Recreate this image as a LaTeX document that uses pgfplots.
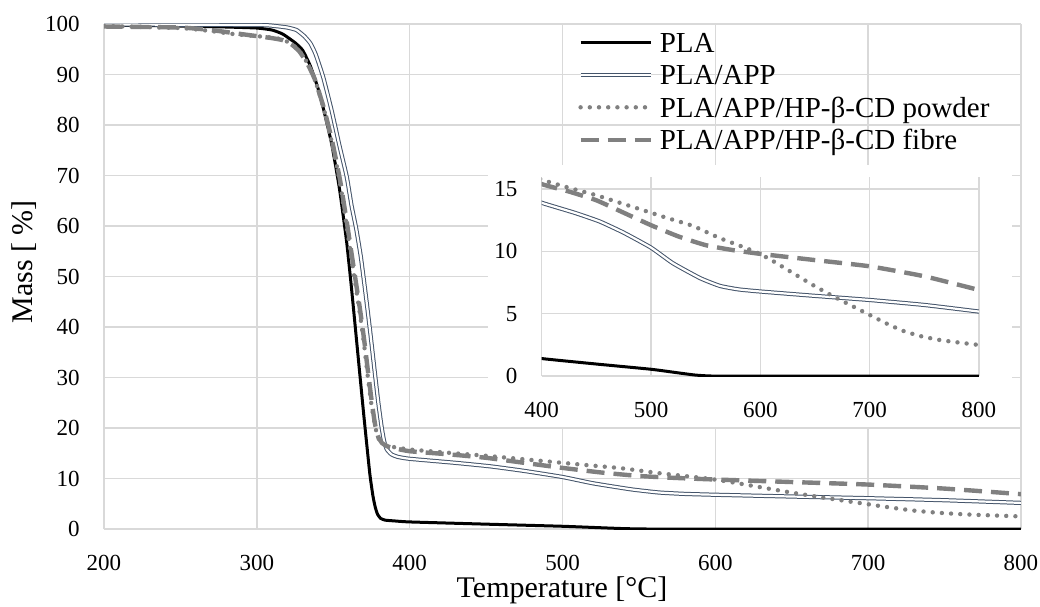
\documentclass[border=0pt]{standalone}
\usepackage{fontspec}
\setmainfont{Liberation Serif}
\usepackage{pgfplots}
\usepackage{pgfplotstable}
\pgfplotsset{compat=1.18}

\definecolor{gridgray}{RGB}{217,217,217}
\definecolor{appblue}{RGB}{68,84,106}
\definecolor{curvegray}{RGB}{128,128,128}

% TGA curves: temperature [C], mass [%]
\pgfplotstableread{
T m
200 99.8
250 99.6
280 99.4
300 99.2
310 98.8
317 98.0
325 96.3
330 94.8
335 91.7
340 87.3
344 82.7
349 76.2
354 67.5
358.7 57.0
362 47.5
366 35.0
370 22.5
373.9 11.0
376 6.5
377.5 4.3
379 2.9
381 2.1
384 1.75
390 1.6
400 1.4
450 0.96
500 0.54
525 0.25
540 0.08
555 0
600 0
700 0
800 0
}\pla

\pgfplotstableread{
T m
200 99.9
300 99.8
312 99.6
320 99.3
326 98.8
331 97.6
335 96.2
338.5 94.0
343.5 89.4
349 82.8
354 76.0
358.8 69.8
362 64.0
365 59.5
368 54.0
371 47.0
374 39.5
377 31.5
379.5 25.0
381.5 20.5
383.2 17.5
385 15.8
388 14.8
392 14.3
400 13.9
430 13.1
453 12.4
475 11.5
500 10.3
520 9.05
545 7.85
563 7.23
580 6.95
600 6.78
650 6.43
700 6.1
750 5.7
800 5.17
}\plaapp

\pgfplotstableread{
T m
200 99.6
250 99.2
270 98.6
285 98.0
300 97.6
310 97.3
317 96.9
323 96.0
328 94.6
333 92.3
338 89.0
344 83.0
349.5 76.0
354.5 68.5
358.5 60.5
361.5 54.5
364.5 48.5
367.5 42.5
370.2 36.5
372.4 30.7
374.6 25.4
376.7 21.5
378.9 18.4
381 17.2
384 16.6
390 16.2
400 15.75
425 15.1
450 14.5
475 13.8
500 13.1
514 12.7
538 12.05
563 11.06
587 10.26
600 9.78
612 9.2
630 8.25
648 7.3
667 6.38
685 5.57
700 4.9
715 4.23
730 3.64
746 3.21
764 2.89
782 2.68
800 2.49
}\powder

\pgfplotstableread{
T m
200 99.5
250 99.3
270 98.8
285 98.2
300 97.6
310 97.2
317 96.8
323 95.9
328 94.5
333 92.2
338 89.0
344 83.2
349.5 76.5
354.5 69.0
358.5 61.5
361.5 55.5
364.5 49.5
367.5 43.5
370.2 37.5
373 30.5
375.5 24.5
377.5 20.5
379.5 18.2
382 17.0
386 16.3
390 16.0
400 15.4
425 14.8
450 14.1
475 13.1
500 12.1
525 11.2
550 10.5
575 10.1
600 9.8
650 9.3
700 8.8
750 8.0
800 6.9
}\fibre

\pgfplotsset{
  tga/.style={
    scale only axis,
    axis line style={draw=none},
    major tick length=0pt,
    grid=major,
    major grid style={gridgray, line width=0.75pt},
    tick label style={font=\fontsize{11.5}{13}\selectfont},
    yticklabel style={anchor=east, inner sep=0pt, xshift=-12pt, font=\fontsize{11.5}{13}\selectfont},
    xticklabel style={anchor=north, inner sep=0pt, yshift=-13pt, font=\fontsize{11.5}{13}\selectfont},
    /pgf/number format/assume math mode=true,
  },
  plaline/.style={black, line width=1.5pt, smooth, tension=0.3, line join=round},
  appline/.style={draw=appblue, double=white, line width=0.5pt, double distance=1.1pt, smooth, tension=0.3, line join=round},
  powderline/.style={curvegray, line width=2.2pt, line cap=round, dash pattern=on 0pt off 4.6pt, smooth, tension=0.3},
  fibreline/.style={curvegray, line width=2.2pt, dash pattern=on 9pt off 4.5pt, smooth, tension=0.3},
}

\begin{document}
\begin{tikzpicture}
\path[use as bounding box] (-52pt,-38.5pt) rectangle (468pt,264.5pt);

\begin{axis}[
  tga,
  width=458.5pt, height=252.5pt,
  xmin=200, xmax=800, ymin=0, ymax=100,
  xtick={200,300,...,800},
  ytick={0,10,...,100},
  legend style={
    at={(axis description cs:0.5169,0.9887)}, anchor=north west,
    draw=none, fill=none, inner sep=0pt,
    font=\fontsize{14.5}{17}\selectfont,
    cells={anchor=west},
    nodes={inner sep=0pt, text height=11pt, text depth=4pt},
    row sep=1.3pt, column sep=3.5pt,
  },
  legend image code/.code={\draw[#1] (0pt,1.5pt) -- (35pt,1.5pt);},
]
  \addplot[plaline] table {\pla};
  \addlegendentry{PLA}
  \addplot[appline] table {\plaapp};
  \addlegendentry{PLA/APP}
  \addplot[powderline] table {\powder};
  \addlegendentry{PLA/APP/HP-β-CD powder}
  \addplot[fibreline] table {\fibre};
  \addlegendentry{PLA/APP/HP-β-CD fibre}
\end{axis}

% white chart area of the inset
\fill[white] (192pt,51pt) rectangle (454pt,182pt);

\begin{axis}[
  tga,
  at={(218.85pt,76.5pt)}, anchor=south west,
  width=218.65pt, height=99.7pt,
  xmin=400, xmax=800, ymin=0, ymax=16,
  xtick={400,500,...,800},
  ytick={0,5,10,15},
]
  \addplot[plaline] table {\pla};
  \addplot[appline] table {\plaapp};
  \addplot[powderline] table {\powder};
  \addplot[fibreline] table {\fibre};
\end{axis}

\node[font=\fontsize{15}{18}\selectfont, rotate=90] at (-40pt,133.6pt) {Mass [ \%]};
\node[font=\fontsize{15}{18}\selectfont] at (229pt,-30.5pt) {Temperature [°C]};
\end{tikzpicture}
\end{document}
